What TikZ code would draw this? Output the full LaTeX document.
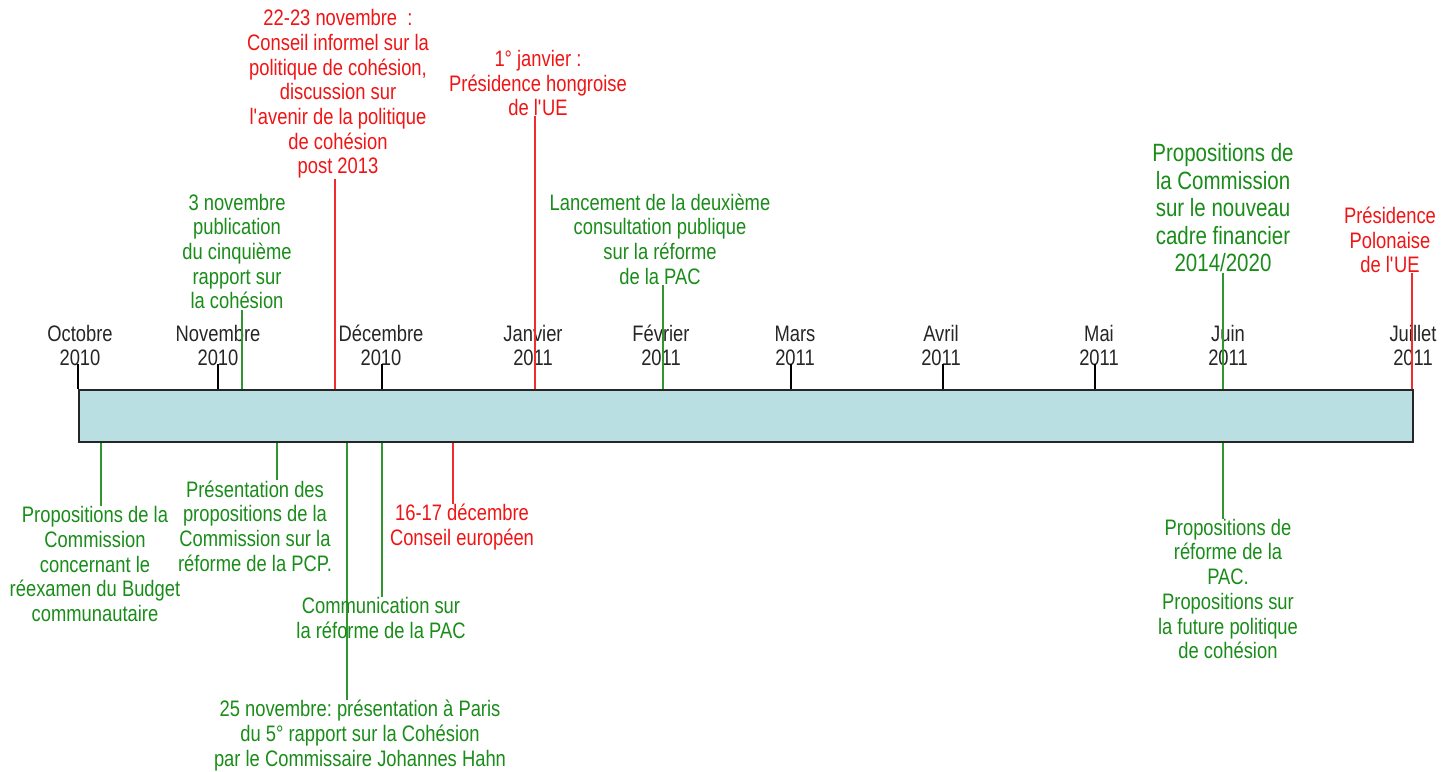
\documentclass[tikz,border=0pt]{standalone}
\usepackage{fontspec}
\setmainfont{Liberation Sans}[FakeStretch=0.82]
\definecolor{evred}{RGB}{240,20,20}
\definecolor{evgreen}{RGB}{25,140,25}
\definecolor{barfill}{RGB}{186,223,227}
\frenchspacing
\begin{document}
\begin{tikzpicture}[x=0.5pt,y=-0.5pt,
  lbl/.style={align=center,inner sep=0pt,font=\fontsize{11.2}{12.35}\selectfont},
  monlbl/.style={lbl,text=black!85},
  redlbl/.style={lbl,text=evred},
  greenlbl/.style={lbl,text=evgreen},
  redline/.style={evred!90,line width=0.75pt},
  greenline/.style={evgreen!90,line width=0.75pt}]
\useasboundingbox (0,0) rectangle (1453,772);
% the time bar
\node[draw=black!85,line width=1pt,fill=barfill,inner sep=0pt,
  minimum width=667pt,minimum height=26pt,anchor=north west] (bar) at (78,389) {};
% months and ticks
\foreach \x/\lx/\m/\yr [count=\i] in {78/80/Octobre/2010,218/218/Novembre/2010,
  382/381/Décembre/2010,535/533/Janvier/2011,663/661/Février/2011,
  791/795/Mars/2011,943/941/Avril/2011,1095/1099/Mai/2011,
  1223/1228/Juin/2011,1412/1413/Juillet/2011}
{
\node[monlbl] (m\i) at (\lx,348.5) {\strut\m\\\strut\yr};
\coordinate (t\i) at (\x,364);
\draw[line width=0.75pt] (t\i) -- (t\i |- bar.north);
}
% events above the bar
\node[greenlbl] (nov3) at (237,251.5) {3 novembre\\publication\\du cinquième\\rapport sur\\la cohésion};
\coordinate (nov3x) at (242,0);
\draw[greenline] (nov3x |- bar.north) -- (nov3x |- nov3.south);
\node[redlbl] (nov22) at (338,94) {22-23 novembre\ \ :\\Conseil informel sur la\\politique de cohésion,\\discussion sur\\l\textquotesingle avenir de la politique\\de cohésion\\post 2013};
\coordinate (nov22x) at (335,0);
\draw[redline] (nov22x |- bar.north) -- (nov22x |- nov22.south);
\node[redlbl] (jan1) at (538,83) {1° janvier :\\Présidence hongroise\\de l\textquotesingle UE};
\coordinate (jan1x) at (535,0);
\draw[redline] (jan1x |- bar.north) -- (jan1x |- jan1.south);
\node[greenlbl] (fev) at (660,239) {Lancement de la deuxième\\consultation publique\\sur la réforme\\de la PAC};
\coordinate (fevx) at (663,0);
\draw[greenline] (fevx |- bar.north) -- (fevx |- fev.south);
\node[greenlbl,font=\fontsize{12.5}{13.75}\selectfont] (juin) at (1223,208) {Propositions de\\la Commission\\sur le nouveau\\cadre financier\\2014/2020};
\coordinate (juinx) at (1223,0);
\draw[greenline] (juinx |- bar.north) -- (juinx |- juin.south);
\node[redlbl] (juil) at (1390,240) {Présidence\\Polonaise\\de l\textquotesingle UE};
\coordinate (juilx) at (1412,0);
\draw[redline] (juilx |- bar.north) -- (juilx |- juil.south);
% events below the bar
\node[greenlbl] (budget) at (95,564) {Propositions de la\\Commission\\concernant le\\réexamen du Budget\\communautaire};
\coordinate (budgetx) at (101,0);
\draw[greenline] (budgetx |- bar.south) -- (budgetx |- budget.north);
\node[greenlbl] (pcp) at (255,526) {Présentation des\\propositions de la\\Commission sur la\\réforme de la PCP.};
\coordinate (pcpx) at (277,0);
\draw[greenline] (pcpx |- bar.south) -- (pcpx |- pcp.north);
\node[greenlbl] (paris) at (360,735.5) {25 novembre: présentation à Paris\\du 5° rapport sur la Cohésion\\par le Commissaire Johannes Hahn};
\coordinate (parisx) at (347,0);
\draw[greenline] (parisx |- bar.south) -- (parisx |- paris.north);
\node[greenlbl] (pac) at (381,618) {Communication sur\\la réforme de la PAC};
\coordinate (pacx) at (382,0);
\draw[greenline] (pacx |- bar.south) -- (pacx |- pac.north);
\node[redlbl] (dec16) at (462,527) {16-17 décembre\\Conseil européen};
\coordinate (dec16x) at (453,0);
\draw[redline] (dec16x |- bar.south) -- (dec16x |- dec16.north);
\node[greenlbl] (juinb) at (1228,589) {Propositions de\\réforme de la\\PAC.\\Propositions sur\\la future politique\\de cohésion};
\draw[greenline] (juinx |- bar.south) -- (juinx |- juinb.north);
\end{tikzpicture}
\end{document}
